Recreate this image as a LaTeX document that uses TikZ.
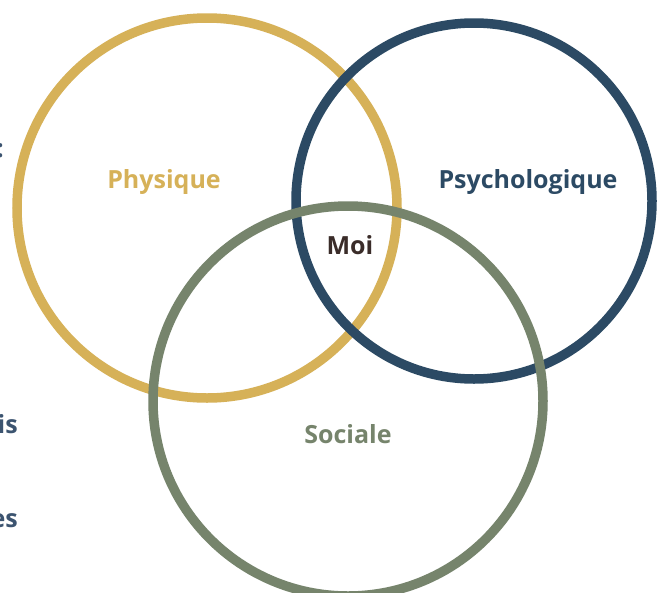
\documentclass[tikz,border=0pt]{standalone}
\usepackage{fontspec}
\setmainfont{Open Sans}
\definecolor{gold}{HTML}{D6B158}
\definecolor{navy}{HTML}{2C4A64}
\definecolor{sage}{HTML}{76846C}
\definecolor{moi}{HTML}{3A2C29}
\definecolor{sidetext}{HTML}{3C5470}
\tikzset{
  ring/.style={line width=9.5pt},
  lbl/.style={font=\fontsize{25}{30}\selectfont\bfseries, inner sep=0pt},
  frag/.style={font=\fontsize{25}{30}\selectfont\bfseries, inner sep=0pt, text=sidetext, anchor=base east}
}
\begin{document}
\begin{tikzpicture}[x=1pt,y=-1pt]
\useasboundingbox (0,0) rectangle (658,592);
\fill[white] (0,0) rectangle (658,592);
\node[frag] (f1) at (4,157) {:};
\node[frag] (f2) at (18,433) {is};
\node[frag] (f3) at (18,527) {es};
\draw[ring, gold] (207,208) circle[radius=190];
\draw[ring, navy] (474,201) circle[radius=178];
\draw[ring, sage] (348,401) circle[radius=195];
\node[lbl, text=gold] (phys) at (164,182) {Physique};
\node[lbl, text=navy] (psy) at (528,182) {Psychologique};
\node[lbl, text=moi] (moi) at (350,245) {Moi};
\node[lbl, text=sage] (soc) at (348,434) {Sociale};
\end{tikzpicture}
\end{document}
